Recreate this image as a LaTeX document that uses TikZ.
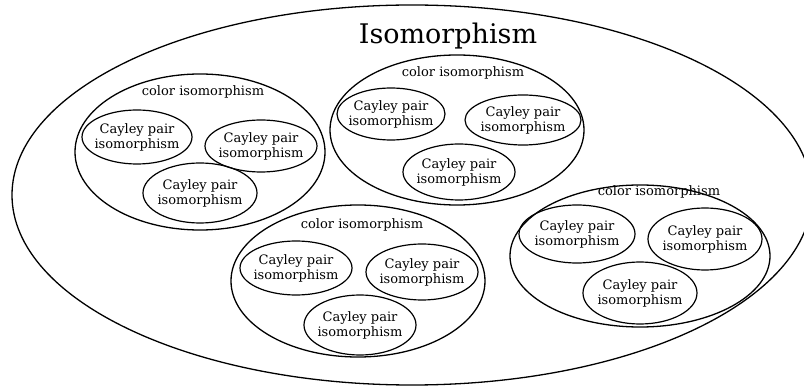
\documentclass[tikz,border=0pt]{standalone}
\usepackage{fontspec}
\setmainfont{DejaVu Serif}
\begin{document}
\begin{tikzpicture}[x=1pt,y=-1pt,
  ring/.style={draw=black,line width=1.3pt,ellipse},
  lbl/.style={font=\fontsize{13}{15}\selectfont,align=center,inner sep=0pt},
  ttl/.style={font=\fontsize{27}{30}\selectfont,inner sep=0pt}]
\useasboundingbox (0,0) rectangle (804,390);
\clip (0,0) rectangle (804,390);
% outer
\draw[line width=1.3pt] (412,195) ellipse [x radius=400, y radius=190];
\node[ttl] (title) at (448,36) {Isomorphism};
% group 1
\draw[line width=1.3pt] (200,152) ellipse [x radius=125, y radius=78];
\node[lbl] (g1) at (203,92) {color isomorphism};
\draw[line width=1.2pt] (137,137) ellipse [x radius=55, y radius=27];
\node[lbl] (g1a) at (137,137) {Cayley pair\\isomorphism};
\draw[line width=1.2pt] (261,146) ellipse [x radius=56, y radius=26];
\node[lbl] (g1b) at (261,146) {Cayley pair\\isomorphism};
\draw[line width=1.2pt] (200,193) ellipse [x radius=57, y radius=30];
\node[lbl] (g1c) at (200,193) {Cayley pair\\isomorphism};
% group 2
\draw[line width=1.3pt] (457,130) ellipse [x radius=127, y radius=75];
\node[lbl] (g2) at (463,73) {color isomorphism};
\draw[line width=1.2pt] (391,114) ellipse [x radius=54, y radius=26];
\node[lbl] (g2a) at (391,114) {Cayley pair\\isomorphism};
\draw[line width=1.2pt] (523,120) ellipse [x radius=58, y radius=25];
\node[lbl] (g2b) at (523,120) {Cayley pair\\isomorphism};
\draw[line width=1.2pt] (459,172) ellipse [x radius=56, y radius=28];
\node[lbl] (g2c) at (459,172) {Cayley pair\\isomorphism};
% group 3
\draw[line width=1.3pt] (358,281) ellipse [x radius=127, y radius=76];
\node[lbl] (g3) at (362,225) {color isomorphism};
\draw[line width=1.2pt] (296,268) ellipse [x radius=56, y radius=27];
\node[lbl] (g3a) at (296,268) {Cayley pair\\isomorphism};
\draw[line width=1.2pt] (422,272) ellipse [x radius=56, y radius=28];
\node[lbl] (g3b) at (422,272) {Cayley pair\\isomorphism};
\draw[line width=1.2pt] (360,325) ellipse [x radius=56, y radius=30];
\node[lbl] (g3c) at (360,325) {Cayley pair\\isomorphism};
% group 4
\draw[line width=1.3pt] (640,256) ellipse [x radius=130, y radius=71];
\node[lbl] (g4) at (659,192) {color isomorphism};
\draw[line width=1.2pt] (577,234) ellipse [x radius=58, y radius=29];
\node[lbl] (g4a) at (577,234) {Cayley pair\\isomorphism};
\draw[line width=1.2pt] (705,239) ellipse [x radius=57, y radius=31];
\node[lbl] (g4b) at (705,239) {Cayley pair\\isomorphism};
\draw[line width=1.2pt] (640,293) ellipse [x radius=57, y radius=31];
\node[lbl] (g4c) at (640,293) {Cayley pair\\isomorphism};
\end{tikzpicture}
\end{document}
